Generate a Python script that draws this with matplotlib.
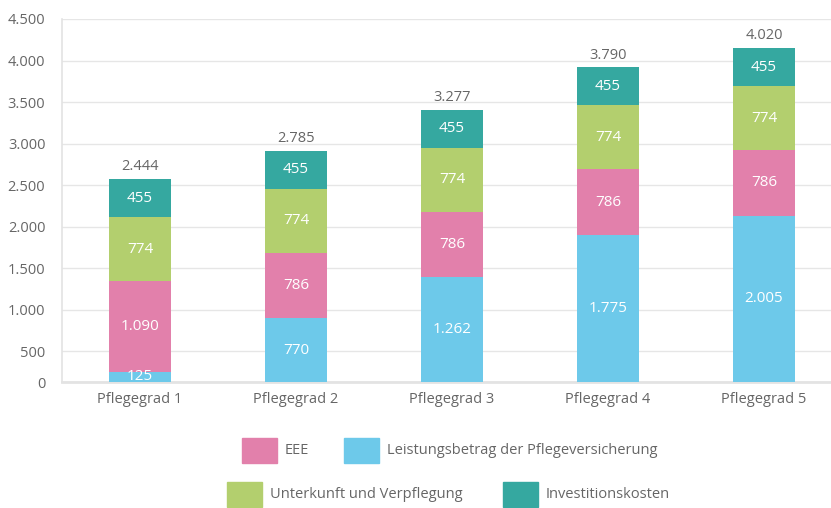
import matplotlib
matplotlib.use("Agg")
import matplotlib.pyplot as plt
from matplotlib.patches import Rectangle

categories = ["Pflegegrad 1", "Pflegegrad 2", "Pflegegrad 3", "Pflegegrad 4", "Pflegegrad 5"]
leistung = [125, 770, 1262, 1775, 2005]
eee = [1090, 786, 786, 786, 786]
unterkunft = [774, 774, 774, 774, 774]
invest = [455, 455, 455, 455, 455]
totals = [2444, 2785, 3277, 3790, 4020]
ytick_labels = [0, 500, 1000, 1500, 2000, 2500, 3000, 3500, 4000, 4500]

series = [
    ("Leistungsbetrag der Pflegeversicherung", leistung, "#6dc9ea"),
    ("EEE", eee, "#e280ab"),
    ("Unterkunft und Verpflegung", unterkunft, "#b3cf6e"),
    ("Investitionskosten", invest, "#35a8a0"),
]

def fmt(v):
    return f"{v:,}".replace(",", ".")

plt.rcParams['font.family'] = ['Open Sans', 'DejaVu Sans']
TXT = "#666666"

fig = plt.figure(figsize=(8.31, 5.08), dpi=100)
ax = fig.add_axes([62/831, 1-382/508, 780/831, 363/508])

x = list(range(len(categories)))
bottom = [0]*len(categories)
for name, vals, col in series:
    ax.bar(x, vals, width=0.40, bottom=bottom, color=col, zorder=3)
    for i, v in enumerate(vals):
        ax.text(x[i], bottom[i] + v/2, fmt(v), ha="center", va="center",
                color="white", fontsize=11, zorder=4)
    bottom = [b + v for b, v in zip(bottom, vals)]

for i, t in enumerate(totals):
    ax.annotate(fmt(t), (x[i], bottom[i]), xytext=(0, 3.5), textcoords="offset points",
                ha="center", va="bottom", color=TXT, fontsize=10.5)

# the reference axis places its labelled gridlines with an offset relative to the bars
shift = 127
ticks = [0] + [v - shift for v in ytick_labels[1:]]
ax.set_ylim(0, ytick_labels[-1] - shift)
ax.set_xlim(-0.5, len(categories) - 0.5)
ax.set_yticks(ticks)
ax.set_yticklabels([fmt(v) for v in ytick_labels])
ax.set_xticks(x)
ax.set_xticklabels(categories)
ax.tick_params(axis="both", length=0, colors=TXT, labelsize=10.5)
ax.tick_params(axis="y", pad=12)
ax.tick_params(axis="x", pad=7)
ax.grid(axis="y", color="#e6e6e6", linewidth=1, zorder=0)
for s in ["top", "right"]:
    ax.spines[s].set_visible(False)
ax.spines["left"].set_color("#e3e3e3")
ax.spines["left"].set_linewidth(1.2)
ax.spines["bottom"].set_color("#e3e3e3")
ax.spines["bottom"].set_linewidth(2)

# legend
W, H = 831, 508
legend_items = [
    ("EEE", "#e280ab", 242, 450.5),
    ("Leistungsbetrag der Pflegeversicherung", "#6dc9ea", 344, 450.5),
    ("Unterkunft und Verpflegung", "#b3cf6e", 227, 494),
    ("Investitionskosten", "#35a8a0", 503, 494),
]
for label, col, px, py in legend_items:
    fig.patches.append(Rectangle((px/W, 1-(py+12.5)/H), 35/W, 25/H,
                                 transform=fig.transFigure, color=col))
    fig.text((px+43)/W, 1-py/H, label, ha="left", va="center", color=TXT, fontsize=10.5)

fig.savefig("out.png", dpi=100)
